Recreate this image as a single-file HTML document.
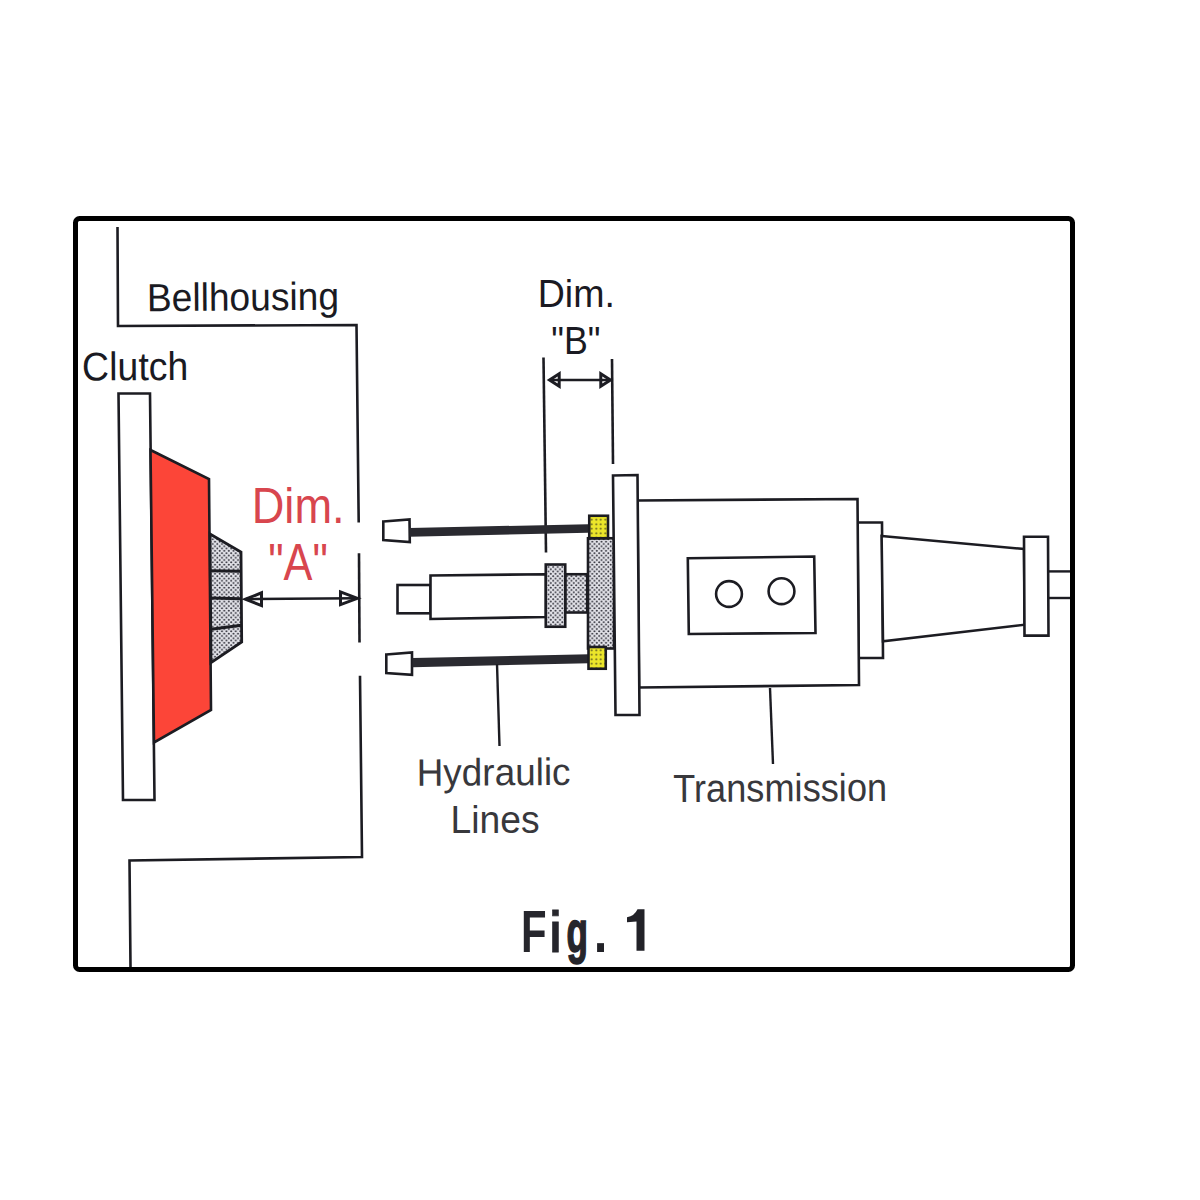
<!DOCTYPE html>
<html><head><meta charset="utf-8">
<style>
html,body{margin:0;padding:0;background:#fff;width:1200px;height:1200px;overflow:hidden}
svg{display:block}
text{font-family:"Liberation Sans",sans-serif}
</style></head>
<body>
<svg width="1200" height="1200" viewBox="0 0 1200 1200">
<defs>
<pattern id="dots" width="4.6" height="4.6" patternUnits="userSpaceOnUse">
<rect width="4.6" height="4.6" fill="#e4e4ea"/>
<circle cx="1.15" cy="1.15" r="1.0" fill="#2c2c36"/>
<circle cx="3.45" cy="3.45" r="1.0" fill="#2c2c36"/>
</pattern>
<pattern id="ydots" width="4.5" height="4.5" patternUnits="userSpaceOnUse">
<rect width="4.5" height="4.5" fill="#ece62a"/>
<circle cx="2.25" cy="2.25" r="1.0" fill="#5a5620"/>
</pattern>
</defs>
<rect x="0" y="0" width="1200" height="1200" fill="#fff"/>

<g fill="none" stroke="#1c1c22" stroke-width="2.6" stroke-linejoin="miter">
<!-- bellhousing -->
<polyline points="117.5,227 118,326 356.5,325 358.7,522.5"/>
<line x1="359" y1="553.3" x2="359.5" y2="642.5"/>
<polyline points="360,675.8 362,857 129.5,860.5 130.5,967"/>
</g>

<!-- clutch plate -->
<polygon points="118.5,393.5 150,393.5 154.5,800 123,800" fill="#fff" stroke="#1c1c22" stroke-width="2.6"/>
<!-- red pressure plate -->
<polygon points="150.5,450 209,479 211,710 154,742.5" fill="#fc4538" stroke="#1c1c22" stroke-width="2.6"/>
<!-- hub -->
<polygon points="210,534 241,552 241.7,642 211,662.7" fill="url(#dots)" stroke="#1c1c22" stroke-width="2.8"/>
<g stroke="#1c1c22" stroke-width="3">
<line x1="210.5" y1="570.7" x2="241" y2="571.3"/>
<line x1="210.5" y1="598" x2="241" y2="598.7"/>
<line x1="211" y1="629.3" x2="241.5" y2="625.3"/>
</g>

<!-- Dim A arrow -->
<g stroke="#1c1c22" stroke-width="2.6" fill="none">
<line x1="246" y1="599" x2="357" y2="598.3"/>
<polygon points="245.5,599.2 261.5,592.8 261.5,605.6" stroke-width="3"/>
<polygon points="357.5,598.3 340.5,591.9 340.5,604.7" stroke-width="3"/>
</g>

<!-- Dim B -->
<g stroke="#1c1c22" stroke-width="2.6" fill="none">
<line x1="543.5" y1="357.5" x2="546" y2="552.5"/>
<line x1="612" y1="359" x2="613" y2="464"/>
<line x1="550" y1="380" x2="610" y2="380"/>
<polygon points="549.5,380 559.2,373.8 559.2,386.2" stroke-width="3"/>
<polygon points="610.5,380 600.8,373.8 600.8,386.2" stroke-width="3"/>
</g>

<!-- hydraulic lines -->
<g stroke="#1c1c22" stroke-width="2.6" fill="#fff">
<polygon points="383.3,521.5 409.5,519.5 409.8,542 383.3,540"/>
<polygon points="386.3,654.5 412,652.5 412,674.8 386.3,673"/>
</g>
<polygon points="409.5,528 588,524.2 588,532.8 409.5,536.7" fill="#2a2a30"/>
<polygon points="412.5,658 589,654.25 589,663.25 412.5,667.3" fill="#2a2a30"/>

<!-- shaft -->
<g stroke="#1c1c22" stroke-width="2.6" fill="#fff">
<rect x="397.5" y="585" width="33" height="28.3"/>
<polygon points="430.5,575.5 546,574.2 546,617 430.5,619"/>
</g>
<g stroke="#1c1c22" stroke-width="2.6" fill="url(#dots)">
<rect x="565.25" y="574.25" width="22" height="38.25"/>
<rect x="545.75" y="564.5" width="19.5" height="62.25"/>
<rect x="588" y="538.25" width="26" height="110.25"/>
</g>
<g stroke="#1c1c22" stroke-width="2.6" fill="url(#ydots)">
<rect x="589.25" y="515.75" width="18.75" height="22.5"/>
<rect x="588.5" y="647" width="17.25" height="21.75"/>
</g>

<!-- flange plate & transmission -->
<g stroke="#1c1c22" stroke-width="2.6" fill="#fff">
<polygon points="857.5,522.5 882,522.5 883,658 858.5,658"/>
<polygon points="881.6,536 1024,549 1024.7,624.7 883,641.4"/>
<polygon points="1024,536.8 1048,536.8 1048.5,635.6 1024.5,635.6"/>
<polygon points="637.5,500.5 857.5,499 859,685 639,687.5"/>
<polygon points="613,475.5 637.5,475 639.5,715 615.5,715"/>
<polygon points="687.8,558.2 814.2,556.5 815.5,633 688.8,634"/>
<circle cx="729" cy="594" r="12.9"/>
<circle cx="781.5" cy="591.2" r="12.9"/>
</g>
<g stroke="#1c1c22" stroke-width="2.4" fill="none">
<line x1="1048" y1="571.4" x2="1070" y2="571.4"/>
<line x1="1048" y1="598" x2="1070" y2="598"/>
<line x1="497" y1="664" x2="499.5" y2="746"/>
<line x1="770" y1="688" x2="773" y2="764"/>
</g>

<!-- texts -->
<text transform="translate(146.93,311.20) rotate(-0.45) scale(0.9482,1)" font-size="39.21" font-weight="normal" fill="#1a1a22">Bellhousing</text>
<text transform="translate(82.12,380.50) rotate(-0.3) scale(0.9375,1)" font-size="40.00" font-weight="normal" fill="#1a1a22">Clutch</text>
<text transform="translate(537.70,307.00) scale(0.9563,1)" font-size="39.27" font-weight="normal" fill="#1a1a22">Dim.</text>
<text transform="translate(551.28,353.50) scale(0.9102,1)" font-size="39.27" font-weight="normal" fill="#1a1a22">&quot;B&quot;</text>
<text transform="translate(251.77,523.00) scale(0.8998,1)" font-size="50.18" font-weight="normal" fill="#d8464e">Dim.</text>
<text transform="translate(268.16,580.00) scale(0.8511,1)" font-size="50.91" font-weight="normal" fill="#d8464e">&quot;A&quot;</text>
<text transform="translate(416.70,785.75) rotate(-0.3) scale(0.9673,1)" font-size="38.18" font-weight="normal" fill="#38383c">Hydraulic</text>
<text transform="translate(450.42,833.00) scale(0.9496,1)" font-size="39.27" font-weight="normal" fill="#38383c">Lines</text>
<text transform="translate(673.18,802.00) rotate(-0.3) scale(0.9227,1)" font-size="39.27" font-weight="normal" fill="#38383c">Transmission</text>
<text transform="translate(520.92,951.9) scale(0.697,1)" font-size="60.07" font-weight="bold" fill="#26262c">F</text>
<text transform="translate(549.6,951.9) scale(0.74,1)" font-size="58" font-weight="bold" fill="#26262c" stroke="#26262c" stroke-width="0.8">i</text>
<text transform="translate(566.6,951.9) scale(0.60,1)" font-size="58.5" font-weight="bold" fill="#26262c" stroke="#26262c" stroke-width="1.6">g</text>
<text transform="translate(593.68,951.90) scale(0.8187,1)" font-size="60.00" font-weight="bold" fill="#222228">.</text>
<path d="M637.5,909.3 L644.5,909.3 L644.5,950.8 L636.5,950.8 L636.5,921.6 L627,922.2 L627,917.3 Q634.5,916 637.5,909.3 Z" fill="#222228"/>

<!-- frame -->
<rect x="75.5" y="218.5" width="997" height="751" rx="4" ry="4" fill="none" stroke="#000" stroke-width="5"/>
</svg>
</body></html>
